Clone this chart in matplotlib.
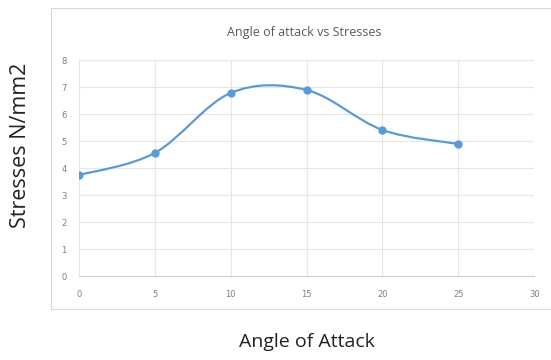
import numpy as np
import matplotlib.pyplot as plt
from matplotlib.path import Path
from matplotlib.patches import PathPatch, Rectangle

# Stress vs angle of attack
angle = [0, 5, 10, 15, 20, 25]
stress = [3.74, 4.56, 6.78, 6.89, 5.41, 4.89]

line_color = "#5b9bd5"


def smooth_path(xs, ys, t=1 / 6):
    # Catmull-Rom style cubic Bezier segments (spreadsheet "smoothed line")
    pts = np.column_stack([xs, ys]).astype(float)
    n = len(pts)
    verts = [pts[0]]
    codes = [Path.MOVETO]
    for i in range(n - 1):
        p0 = pts[i - 1] if i > 0 else pts[i]
        p1 = pts[i]
        p2 = pts[i + 1]
        p3 = pts[i + 2] if i + 2 < n else pts[i + 1]
        c1 = p1 + (p2 - p0) * t
        c2 = p2 - (p3 - p1) * t
        verts += [c1, c2, p2]
        codes += [Path.CURVE4] * 3
    return Path(verts, codes)


fig = plt.figure(figsize=(5.51, 3.6), dpi=100)

# chart frame
fig.patches.append(Rectangle((0.0926, 0.1417), 0.92, 0.836, transform=fig.transFigure,
                             fill=False, edgecolor="#d9d9d9", linewidth=0.8))

ax = fig.add_axes([0.1434, 0.2333, 0.826, 0.6])

ax.add_patch(PathPatch(smooth_path(angle, stress), fill=False,
                       edgecolor=line_color, linewidth=1.6))
ax.plot(angle, stress, linestyle="none", marker="o", markersize=5,
        color=line_color, zorder=3)

ax.set_xlim(0, 30)
ax.set_ylim(0, 8)
ax.set_xticks(range(0, 31, 5))
ax.set_yticks(range(0, 9))
ax.grid(True, color="#e6e6e6", linewidth=0.8)
ax.set_axisbelow(True)

for side in ["top", "right", "left"]:
    ax.spines[side].set_visible(False)
ax.spines["bottom"].set_color("#d0d0d0")
ax.tick_params(length=0, labelsize=6, colors="#7f7f7f")
ax.tick_params(axis="x", pad=10)
ax.tick_params(axis="y", pad=9)

fig.text(0.553, 0.91, "Angle of attack vs Stresses", ha="center", va="center",
         fontsize=9, color="#595959", family="Open Sans")
fig.text(0.037, 0.595, "Stresses N/mm2", rotation=90, ha="center", va="center",
         fontsize=15.5, color="#222222", family="Open Sans")
fig.text(0.557, 0.05, "Angle of Attack", ha="center", va="center",
         fontsize=14, color="#222222", family="Open Sans")

fig.savefig("out.png", dpi=100)
